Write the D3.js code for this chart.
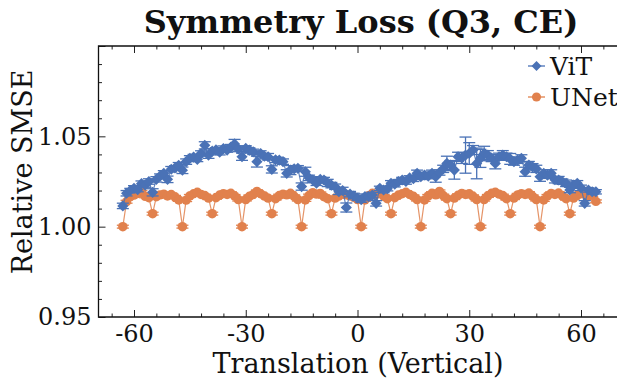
<!DOCTYPE html>
<html lang="en">
	<head>
		<meta charset="utf-8">
		<title>Symmetry Loss (Q3, CE)</title>
		<script type="text/javascript" src="https://d3js.org/d3.v7.min.js"></script>
		<style type="text/css">
			body { margin: 0; background: #fff; }
			text { font-family: "DejaVu Serif", "Liberation Serif", serif; fill: #111; }
		</style>
	</head>
	<body>
		<script type="text/javascript">
		//Translations (vertical shift, pixels)
		var shifts = d3.range(-63, 65);

		//ViT relative SMSE, one value per shift
		var vitValues = [
			1.0115, 1.0185, 1.0200, 1.0212, 1.0205, 1.0238, 1.0230, 1.0250, 1.0190, 1.0262,
			1.0280, 1.0295, 1.0262, 1.0318, 1.0325, 1.0340, 1.0312, 1.0360, 1.0378, 1.0385,
			1.0372, 1.0405, 1.0450, 1.0396, 1.0418, 1.0425, 1.0412, 1.0432, 1.0424, 1.0440,
			1.0458, 1.0430, 1.0387, 1.0433, 1.0424, 1.0414, 1.0360, 1.0405, 1.0390, 1.0387,
			1.0317, 1.0370, 1.0368, 1.0360, 1.0295, 1.0313, 1.0320, 1.0323, 1.0222, 1.0304,
			1.0270, 1.0258, 1.0240, 1.0262, 1.0258, 1.0242, 1.0230, 1.0221, 1.0193, 1.0200,
			1.0106, 1.0180, 1.0170, 1.0157, 1.0150, 1.0166, 1.0166, 1.0175, 1.0129, 1.0212,
			1.0203, 1.0210, 1.0240, 1.0235, 1.0249, 1.0258, 1.0250, 1.0270, 1.0265, 1.0295,
			1.0276, 1.0286, 1.0280, 1.0295, 1.0276, 1.0300, 1.0320, 1.0350, 1.0341, 1.0313,
			1.0387, 1.0380, 1.0396, 1.0405, 1.0424, 1.0350, 1.0378, 1.0405, 1.0396, 1.0380,
			1.0350, 1.0387, 1.0396, 1.0387, 1.0375, 1.0360, 1.0368, 1.0378, 1.0304, 1.0341,
			1.0331, 1.0320, 1.0276, 1.0295, 1.0285, 1.0295, 1.0260, 1.0258, 1.0249, 1.0240,
			1.0203, 1.0230, 1.0240, 1.0215, 1.0129, 1.0203, 1.0193, 1.0193
		];
		var vitErrors = [
			0.0015, 0.0015, 0.0012, 0.0015, 0.0012, 0.0015, 0.0012, 0.0015, 0.0020, 0.0015,
			0.0012, 0.0015, 0.0018, 0.0015, 0.0012, 0.0015, 0.0018, 0.0015, 0.0015, 0.0015,
			0.0012, 0.0015, 0.0020, 0.0018, 0.0015, 0.0012, 0.0015, 0.0015, 0.0012, 0.0015,
			0.0025, 0.0015, 0.0020, 0.0015, 0.0012, 0.0015, 0.0030, 0.0015, 0.0015, 0.0018,
			0.0020, 0.0015, 0.0012, 0.0015, 0.0020, 0.0025, 0.0015, 0.0015, 0.0020, 0.0025,
			0.0015, 0.0015, 0.0012, 0.0015, 0.0015, 0.0020, 0.0015, 0.0015, 0.0015, 0.0018,
			0.0025, 0.0015, 0.0015, 0.0012, 0.0015, 0.0015, 0.0012, 0.0015, 0.0015, 0.0012,
			0.0015, 0.0012, 0.0015, 0.0015, 0.0012, 0.0015, 0.0015, 0.0012, 0.0015, 0.0018,
			0.0015, 0.0015, 0.0015, 0.0018, 0.0030, 0.0015, 0.0020, 0.0040, 0.0025, 0.0050,
			0.0025, 0.0030, 0.0100, 0.0060, 0.0025, 0.0085, 0.0050, 0.0040, 0.0025, 0.0020,
			0.0030, 0.0020, 0.0025, 0.0020, 0.0030, 0.0020, 0.0018, 0.0020, 0.0025, 0.0020,
			0.0018, 0.0020, 0.0025, 0.0020, 0.0018, 0.0020, 0.0018, 0.0020, 0.0015, 0.0018,
			0.0015, 0.0018, 0.0015, 0.0015, 0.0015, 0.0012, 0.0012, 0.0012
		];

		//UNet relative SMSE, one value per shift
		var unetValues = [
			1.0000, 1.0138, 1.0166, 1.0175, 1.0184, 1.0192, 1.0168, 1.0160, 1.0072, 1.0166,
			1.0176, 1.0180, 1.0170, 1.0178, 1.0165, 1.0148, 1.0000, 1.0147, 1.0170, 1.0182,
			1.0190, 1.0178, 1.0172, 1.0158, 1.0072, 1.0160, 1.0175, 1.0183, 1.0178, 1.0185,
			1.0170, 1.0150, 1.0000, 1.0150, 1.0168, 1.0178, 1.0195, 1.0182, 1.0170, 1.0158,
			1.0072, 1.0155, 1.0172, 1.0180, 1.0176, 1.0185, 1.0168, 1.0150, 1.0000, 1.0148,
			1.0172, 1.0188, 1.0180, 1.0184, 1.0166, 1.0155, 1.0072, 1.0158, 1.0170, 1.0180,
			1.0176, 1.0170, 1.0165, 1.0150, 1.0000, 1.0148, 1.0168, 1.0185, 1.0178, 1.0183,
			1.0170, 1.0155, 1.0072, 1.0160, 1.0175, 1.0182, 1.0190, 1.0178, 1.0168, 1.0150,
			1.0000, 1.0148, 1.0170, 1.0185, 1.0176, 1.0195, 1.0172, 1.0155, 1.0072, 1.0158,
			1.0174, 1.0184, 1.0178, 1.0182, 1.0168, 1.0150, 1.0000, 1.0150, 1.0170, 1.0185,
			1.0190, 1.0180, 1.0172, 1.0155, 1.0072, 1.0158, 1.0176, 1.0183, 1.0178, 1.0186,
			1.0168, 1.0150, 1.0000, 1.0148, 1.0170, 1.0184, 1.0178, 1.0186, 1.0170, 1.0155,
			1.0072, 1.0158, 1.0175, 1.0182, 1.0178, 1.0170, 1.0176, 1.0140
		];
		var unetErrors = shifts.map(function() { return 0.0008; });

		//Axis ticks
		var xMajor = [-60, -30, 0, 30, 60];
		var xMinor = [-66, -54, -48, -42, -36, -24, -18, -12, -6, 6, 12, 18, 24, 36, 42, 48, 54, 66];
		var yMajor = [0.95, 1.00, 1.05, 1.10];
		var yMinor = [0.96, 0.97, 0.98, 0.99, 1.01, 1.02, 1.03, 1.04, 1.06, 1.07, 1.08, 1.09];

		function draw() {
			var w = 617;
			var h = 379;
			var mLeft = 98.5, mTop = 46, mBottom = 317, mRight = 620;

			var vitColor = "#4a72b6";
			var unetColor = "#e1814d";

			//Scales
			var x = d3.scaleLinear().domain([-60, 60]).range([134, 581]);
			var y = d3.scaleLinear().domain([0.95, 1.10]).range([mBottom, mTop]);

			var svg = d3.select("body")
						.append("svg")
						.attr("width", w)
						.attr("height", h);

			//Title
			svg.append("text")
				.attr("x", 361)
				.attr("y", 33)
				.attr("text-anchor", "middle")
				.style("font-size", "32px")
				.style("font-weight", "bold")
				.text("Symmetry Loss (Q3, CE)");

			var plot = svg.append("g");

			//Ticks (inside, on the visible sides)
			var fmtY = function(d) { return d > 1.09 ? "" : d3.format(".2f")(d); };
			var axes = [
				[d3.axisBottom(x).tickValues(xMajor).tickSize(-7).tickFormat(function(d) { return String(d); }), "translate(0," + mBottom + ")"],
				[d3.axisBottom(x).tickValues(xMinor).tickSize(-3.5).tickFormat(""), "translate(0," + mBottom + ")"],
				[d3.axisTop(x).tickValues(xMajor).tickSize(-7).tickFormat(""), "translate(0," + mTop + ")"],
				[d3.axisTop(x).tickValues(xMinor).tickSize(-3.5).tickFormat(""), "translate(0," + mTop + ")"],
				[d3.axisLeft(y).tickValues(yMajor).tickSize(-7).tickFormat(fmtY), "translate(" + mLeft + ",0)"],
				[d3.axisLeft(y).tickValues(yMinor).tickSize(-3.5).tickFormat(""), "translate(" + mLeft + ",0)"]
			];
			axes.forEach(function(a) {
				var g = plot.append("g").attr("transform", a[1]).call(a[0]);
				g.select(".domain").remove();
				g.selectAll("line").attr("stroke", "#222").attr("stroke-width", 1);
				g.selectAll("text").style("font-family", "DejaVu Serif, serif").style("font-size", "24px").attr("fill", "#111");
			});

			//Tick label nudges
			plot.selectAll("text").filter(function() { return this.getAttribute("dy") === "0.71em"; }).attr("y", 8);
			plot.selectAll("text").filter(function() { return this.getAttribute("dy") === "0.32em"; }).attr("x", -7);

			//Frame: left, top, bottom
			plot.append("path")
				.attr("d", "M" + mRight + "," + mTop + "H" + mLeft + "V" + mBottom + "H" + mRight)
				.attr("fill", "none")
				.attr("stroke", "#111")
				.attr("stroke-width", 1.3);

			//Axis titles
			svg.append("text")
				.attr("x", 358)
				.attr("y", 373)
				.attr("text-anchor", "middle")
				.style("font-size", "27px")
				.text("Translation (Vertical)");
			svg.append("text")
				.attr("transform", "translate(32,172) rotate(-90)")
				.attr("text-anchor", "middle")
				.style("font-size", "27px")
				.text("Relative SMSE");

			function series(vals, errs, color, shape, size) {
				var data = shifts.map(function(s, i) { return { s: s, v: vals[i], e: errs[i] }; });
				var g = svg.append("g");

				var line = d3.line().x(function(d) { return x(d.s); }).y(function(d) { return y(d.v); });
				g.append("path").datum(data)
					.attr("d", line)
					.attr("fill", "none")
					.attr("stroke", color)
					.attr("stroke-width", 1.2)
					.attr("opacity", 0.85);

				//Error bars
				var eb = g.selectAll("g.eb").data(data).enter().append("g").attr("class", "eb")
					.attr("stroke", color).attr("stroke-width", 1.3);
				eb.append("line")
					.attr("x1", function(d) { return x(d.s); }).attr("x2", function(d) { return x(d.s); })
					.attr("y1", function(d) { return y(d.v - d.e); }).attr("y2", function(d) { return y(d.v + d.e); });
				[-1, 1].forEach(function(k) {
					eb.append("line")
						.attr("x1", function(d) { return x(d.s) - 6; }).attr("x2", function(d) { return x(d.s) + 6; })
						.attr("y1", function(d) { return y(d.v + k * d.e); }).attr("y2", function(d) { return y(d.v + k * d.e); });
				});

				//Markers
				g.selectAll("path.pt").data(data).enter().append("path")
					.attr("class", "pt")
					.attr("d", d3.symbol().type(shape).size(size))
					.attr("transform", function(d) { return "translate(" + x(d.s) + "," + y(d.v) + ")" + (shape === d3.symbolSquare ? " rotate(45)" : ""); })
					.attr("fill", color);
				return g;
			}

			series(unetValues, unetErrors, unetColor, d3.symbolCircle, 70);
			series(vitValues, vitErrors, vitColor, d3.symbolSquare, 62);

			//Legend
			var legend = [["ViT", vitColor, d3.symbolSquare, 50, 66], ["UNet", unetColor, d3.symbolCircle, 66, 97]];
			legend.forEach(function(l) {
				var g = svg.append("g");
				g.append("line").attr("x1", 528).attr("x2", 545).attr("y1", l[4]).attr("y2", l[4])
					.attr("stroke", l[1]).attr("stroke-width", 1.3);
				g.append("path").attr("d", d3.symbol().type(l[2]).size(l[3]))
					.attr("transform", "translate(536.5," + l[4] + ")" + (l[2] === d3.symbolSquare ? " rotate(45)" : ""))
					.attr("fill", l[1]);
				g.append("text").attr("x", 550).attr("y", l[4] + 9)
					.style("font-size", "25px")
					.text(l[0]);
			});
		}
		draw();
		</script>
	</body>
</html>
